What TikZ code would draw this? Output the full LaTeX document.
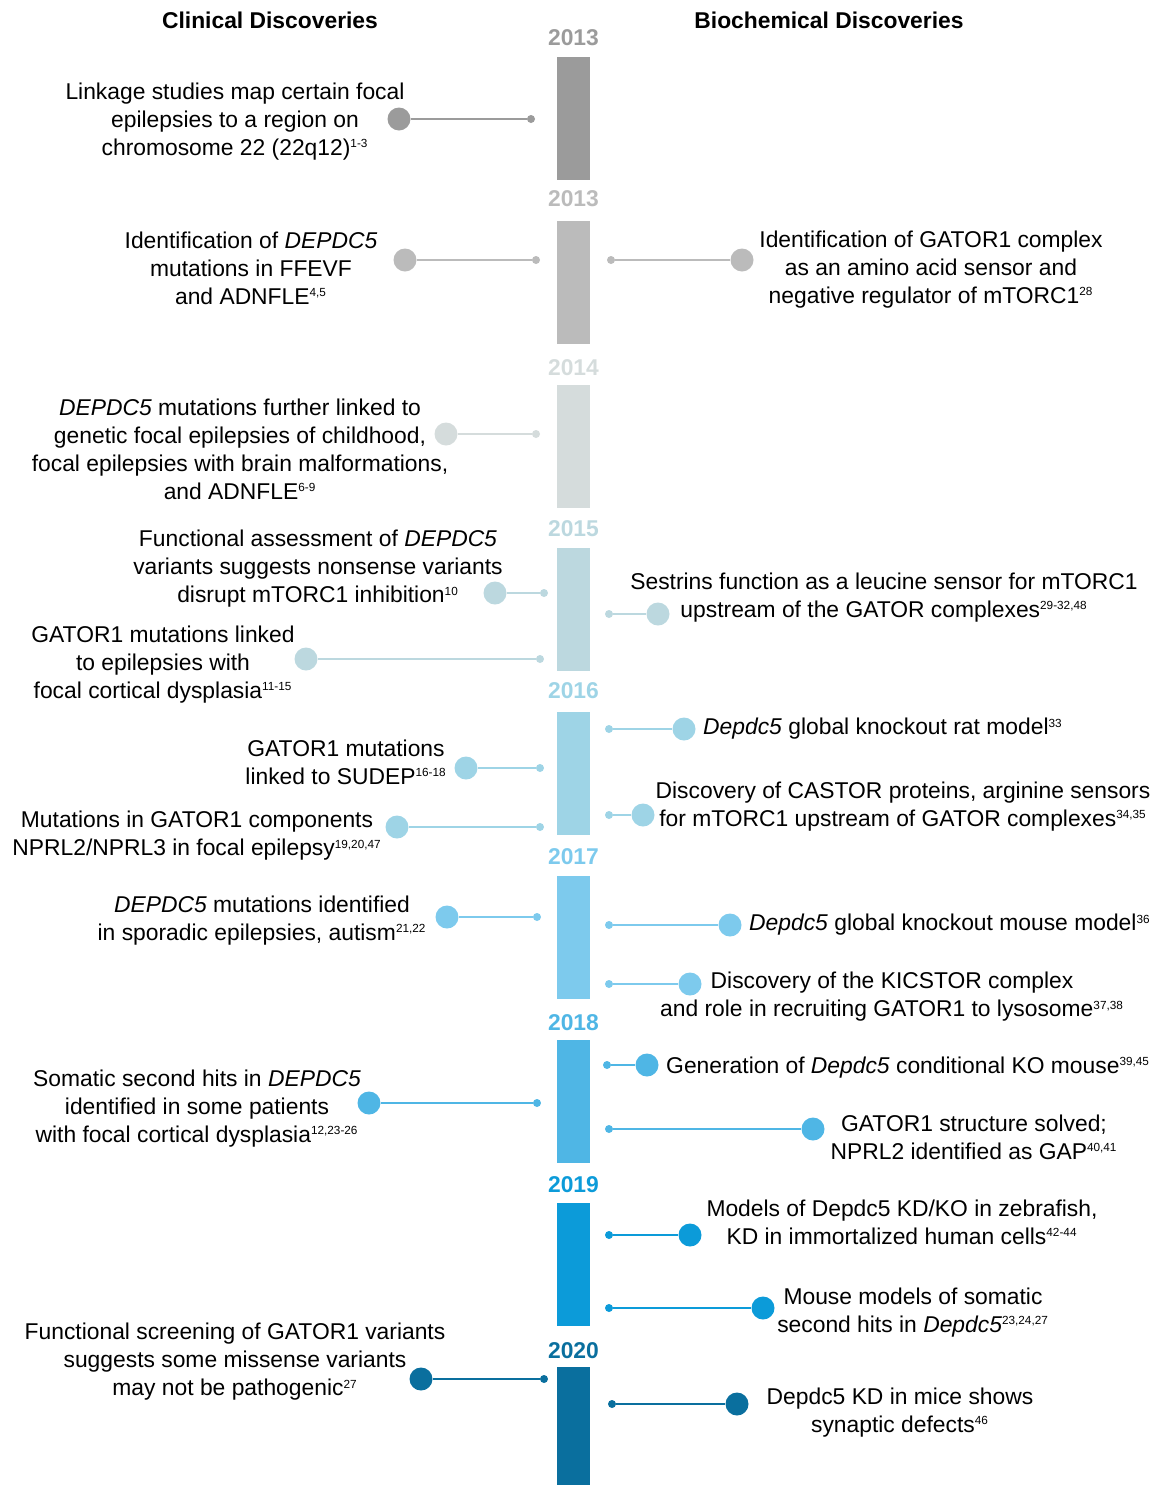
\documentclass[tikz,border=0pt]{standalone}
\usepackage{fontspec}
\setmainfont{Liberation Sans}
\usetikzlibrary{positioning}

\definecolor{yr13a}{HTML}{9B9B9B}
\definecolor{yr13b}{HTML}{BBBBBB}
\definecolor{yr14}{HTML}{D5DCDC}
\definecolor{yr15}{HTML}{BCD8DF}
\definecolor{yr16}{HTML}{9ED4E6}
\definecolor{yr17}{HTML}{7DCAED}
\definecolor{yr18}{HTML}{4FB6E5}
\definecolor{yr19}{HTML}{0C9BD9}
\definecolor{yr20}{HTML}{0A6F9E}

\newcommand{\refsup}[1]{\textsuperscript{\fontsize{6.7}{7}\selectfont #1}}

\begin{document}
\begin{tikzpicture}[
    x=0.02cm, y=-0.02cm,
    % Styles
    yearbar/.style={
        fill=#1, inner sep=0pt,
        minimum width=0.66cm, minimum height=2.46cm,
    },
    yearlbl/.style={font=\fontsize{13}{15}\selectfont\bfseries, text=#1, inner sep=1pt},
    header/.style={font=\fontsize{13}{15}\selectfont\bfseries},
    bigdot/.style={circle, fill=#1, inner sep=0pt, minimum size=0.46cm},
    smalldot/.style={circle, fill=#1, inner sep=0pt, minimum size=0.16cm},
    link/.style={line width=1.2pt, draw=#1},
    event/.style={font=\fontsize{13}{15.9}\selectfont, align=center, inner sep=0pt},
]
\useasboundingbox (0,0) rectangle (1158,1485);

% ================================================================
% HEADERS
% ================================================================
\node[header] (clinhead) at (270, 20) {Clinical Discoveries};
\node[header] (biohead) at (829, 20) {Biochemical Discoveries};

% ================================================================
% TIMELINE BARS + YEARS
% ================================================================
\node[yearbar=yr13a] (bar13a) at (573.5, 118.5) {};
\node[yearbar=yr13b] (bar13b) at (573.5, 282.5) {};
\node[yearbar=yr14] (bar14) at (573.5, 446.5) {};
\node[yearbar=yr15] (bar15) at (573.5, 609.5) {};
\node[yearbar=yr16] (bar16) at (573.5, 773.5) {};
\node[yearbar=yr17] (bar17) at (573.5, 937.5) {};
\node[yearbar=yr18] (bar18) at (573.5, 1101.5) {};
\node[yearbar=yr19] (bar19) at (573.5, 1264.5) {};
\node[yearbar=yr20, minimum height=2.36cm] (bar20) at (573.5, 1426) {};

\node[yearlbl=yr13a, above=5pt of bar13a] (year13a) {2013};
\node[yearlbl=yr13b, above=7pt of bar13b] (year13b) {2013};
\node[yearlbl=yr14, above=4pt of bar14] (year14) {2014};
\node[yearlbl=yr15, above=5pt of bar15] (year15) {2015};
\node[yearlbl=yr16, above=6pt of bar16] (year16) {2016};
\node[yearlbl=yr17, above=5pt of bar17] (year17) {2017};
\node[yearlbl=yr18, above=4pt of bar18] (year18) {2018};
\node[yearlbl=yr19, above=4.5pt of bar19] (year19) {2019};
\node[yearlbl=yr20, above=3.5pt of bar20] (year20) {2020};

% ================================================================
% LEFT: CLINICAL
% ================================================================
\node[event] (linkage) at (235, 121.5)
    {Linkage studies map certain focal\\epilepsies to a region on\\chromosome 22 (22q12)\refsup{1-3}};
\node[bigdot=yr13a] (linkagedot) at (399, 119) {};
\node[smalldot=yr13a] (linkagepin) at (531, 119) {};
\draw[link=yr13a] (linkagedot) -- (linkagepin);

\node[event] (ffevf) at (251, 268.5)
    {Identification of \textit{DEPDC5}\\mutations in FFEVF\\and ADNFLE\refsup{4,5}};
\node[bigdot=yr13b] (ffevfdot) at (405, 260) {};
\node[smalldot=yr13b] (ffevfpin) at (536, 260) {};
\draw[link=yr13b] (ffevfdot) -- (ffevfpin);

\node[event] (childhood) at (240, 449.5)
    {\textit{DEPDC5} mutations further linked to\\genetic focal epilepsies of childhood,\\focal epilepsies with brain malformations,\\and ADNFLE\refsup{6-9}};
\node[bigdot=yr14] (childhooddot) at (446, 434) {};
\node[smalldot=yr14] (childhoodpin) at (536, 434) {};
\draw[link=yr14] (childhooddot) -- (childhoodpin);

\node[event] (nonsense) at (318, 569)
    {Functional assessment of \textit{DEPDC5}\\variants suggests nonsense variants\\disrupt mTORC1 inhibition\refsup{10}};
\node[bigdot=yr15] (nonsensedot) at (495, 593) {};
\node[smalldot=yr15] (nonsensepin) at (544, 593) {};
\draw[link=yr15] (nonsensedot) -- (nonsensepin);

\node[event] (fcd) at (163, 664.5)
    {GATOR1 mutations linked\\to epilepsies with\\focal cortical dysplasia\refsup{11-15}};
\node[bigdot=yr15] (fcddot) at (306, 659) {};
\node[smalldot=yr15] (fcdpin) at (540, 659) {};
\draw[link=yr15] (fcddot) -- (fcdpin);

\node[event] (sudep) at (346, 762.5)
    {GATOR1 mutations\\linked to SUDEP\refsup{16-18}};
\node[bigdot=yr16] (sudepdot) at (466, 768) {};
\node[smalldot=yr16] (sudeppin) at (540, 768) {};
\draw[link=yr16] (sudepdot) -- (sudeppin);

\node[event] (nprl) at (197, 836)
    {Mutations in GATOR1 components\\NPRL2/NPRL3 in focal epilepsy\refsup{19,20,47}};
\node[bigdot=yr16] (nprldot) at (397, 827) {};
\node[smalldot=yr16] (nprlpin) at (540, 827) {};
\draw[link=yr16] (nprldot) -- (nprlpin);

\node[event] (sporadic) at (262, 920.5)
    {\textit{DEPDC5} mutations identified\\in sporadic epilepsies, autism\refsup{21,22}};
\node[bigdot=yr17] (sporadicdot) at (447, 917) {};
\node[smalldot=yr17] (sporadicpin) at (537, 917) {};
\draw[link=yr17] (sporadicdot) -- (sporadicpin);

\node[event] (somatic) at (197, 1108.5)
    {Somatic second hits in \textit{DEPDC5}\\identified in some patients\\with focal cortical dysplasia\refsup{12,23-26}};
\node[bigdot=yr18] (somaticdot) at (369, 1103) {};
\node[smalldot=yr18] (somaticpin) at (537, 1103) {};
\draw[link=yr18] (somaticdot) -- (somaticpin);

\node[event] (missense) at (235, 1362)
    {Functional screening of GATOR1 variants\\suggests some missense variants\\may not be pathogenic\refsup{27}};
\node[bigdot=yr20] (missensedot) at (421, 1379) {};
\node[smalldot=yr20] (missensepin) at (544, 1379) {};
\draw[link=yr20] (missensedot) -- (missensepin);

% ================================================================
% RIGHT: BIOCHEMICAL
% ================================================================
\node[event] (gator) at (931, 269.5)
    {Identification of GATOR1 complex\\as an amino acid sensor and\\negative regulator of mTORC1\refsup{28}};
\node[smalldot=yr13b] (gatorpin) at (611, 260) {};
\node[bigdot=yr13b] (gatordot) at (742, 260) {};
\draw[link=yr13b] (gatorpin) -- (gatordot);

\node[event] (sestrin) at (884, 597.5)
    {Sestrins function as a leucine sensor for mTORC1\\upstream of the GATOR complexes\refsup{29-32,48}};
\node[smalldot=yr15] (sestrinpin) at (609, 614) {};
\node[bigdot=yr15] (sestrindot) at (658, 614) {};
\draw[link=yr15] (sestrinpin) -- (sestrindot);

\node[smalldot=yr16] (ratpin) at (609, 729) {};
\node[bigdot=yr16] (ratdot) at (684, 729) {};
\draw[link=yr16] (ratpin) -- (ratdot);
\node[event, right=4pt of ratdot] (rat)
    {\textit{Depdc5} global knockout rat model\refsup{33}};

\node[event] (castor) at (903, 806.5)
    {Discovery of CASTOR proteins, arginine sensors\\for mTORC1 upstream of GATOR complexes\refsup{34,35}};
\node[smalldot=yr16] (castorpin) at (609, 815) {};
\node[bigdot=yr16] (castordot) at (643, 815) {};
\draw[link=yr16] (castorpin) -- (castordot);

\node[smalldot=yr17] (mousepin) at (609, 925) {};
\node[bigdot=yr17] (mousedot) at (730, 925) {};
\draw[link=yr17] (mousepin) -- (mousedot);
\node[event, right=4pt of mousedot] (mouse)
    {\textit{Depdc5} global knockout mouse model\refsup{36}};

\node[event] (kicstor) at (892, 997)
    {Discovery of the KICSTOR complex\\and role in recruiting GATOR1 to lysosome\refsup{37,38}};
\node[smalldot=yr17] (kicstorpin) at (609, 984) {};
\node[bigdot=yr17] (kicstordot) at (690, 984) {};
\draw[link=yr17] (kicstorpin) -- (kicstordot);

\node[smalldot=yr18] (condkopin) at (607, 1065) {};
\node[bigdot=yr18] (condkodot) at (647, 1065) {};
\draw[link=yr18] (condkopin) -- (condkodot);
\node[event, right=4pt of condkodot, yshift=-1.5pt] (condko)
    {Generation of \textit{Depdc5} conditional KO mouse\refsup{39,45}};

\node[event] (structure) at (974, 1137)
    {GATOR1 structure solved;\\NPRL2 identified as GAP\refsup{40,41}};
\node[smalldot=yr18] (structurepin) at (609, 1129) {};
\node[bigdot=yr18] (structuredot) at (813, 1129) {};
\draw[link=yr18] (structurepin) -- (structuredot);

\node[event] (zebrafish) at (902, 1222)
    {Models of Depdc5 KD/KO in zebrafish,\\KD in immortalized human cells\refsup{42-44}};
\node[smalldot=yr19] (zebrafishpin) at (609, 1235) {};
\node[bigdot=yr19] (zebrafishdot) at (690, 1235) {};
\draw[link=yr19] (zebrafishpin) -- (zebrafishdot);

\node[event] (secondhit) at (913, 1312.5)
    {Mouse models of somatic\\second hits in \textit{Depdc5}\refsup{23,24,27}};
\node[smalldot=yr19] (secondhitpin) at (609, 1308) {};
\node[bigdot=yr19] (secondhitdot) at (763, 1308) {};
\draw[link=yr19] (secondhitpin) -- (secondhitdot);

\node[event] (synaptic) at (900, 1412.5)
    {Depdc5 KD in mice shows\\synaptic defects\refsup{46}};
\node[smalldot=yr20] (synapticpin) at (612, 1404) {};
\node[bigdot=yr20] (synapticdot) at (737, 1404) {};
\draw[link=yr20] (synapticpin) -- (synapticdot);

\end{tikzpicture}
\end{document}
